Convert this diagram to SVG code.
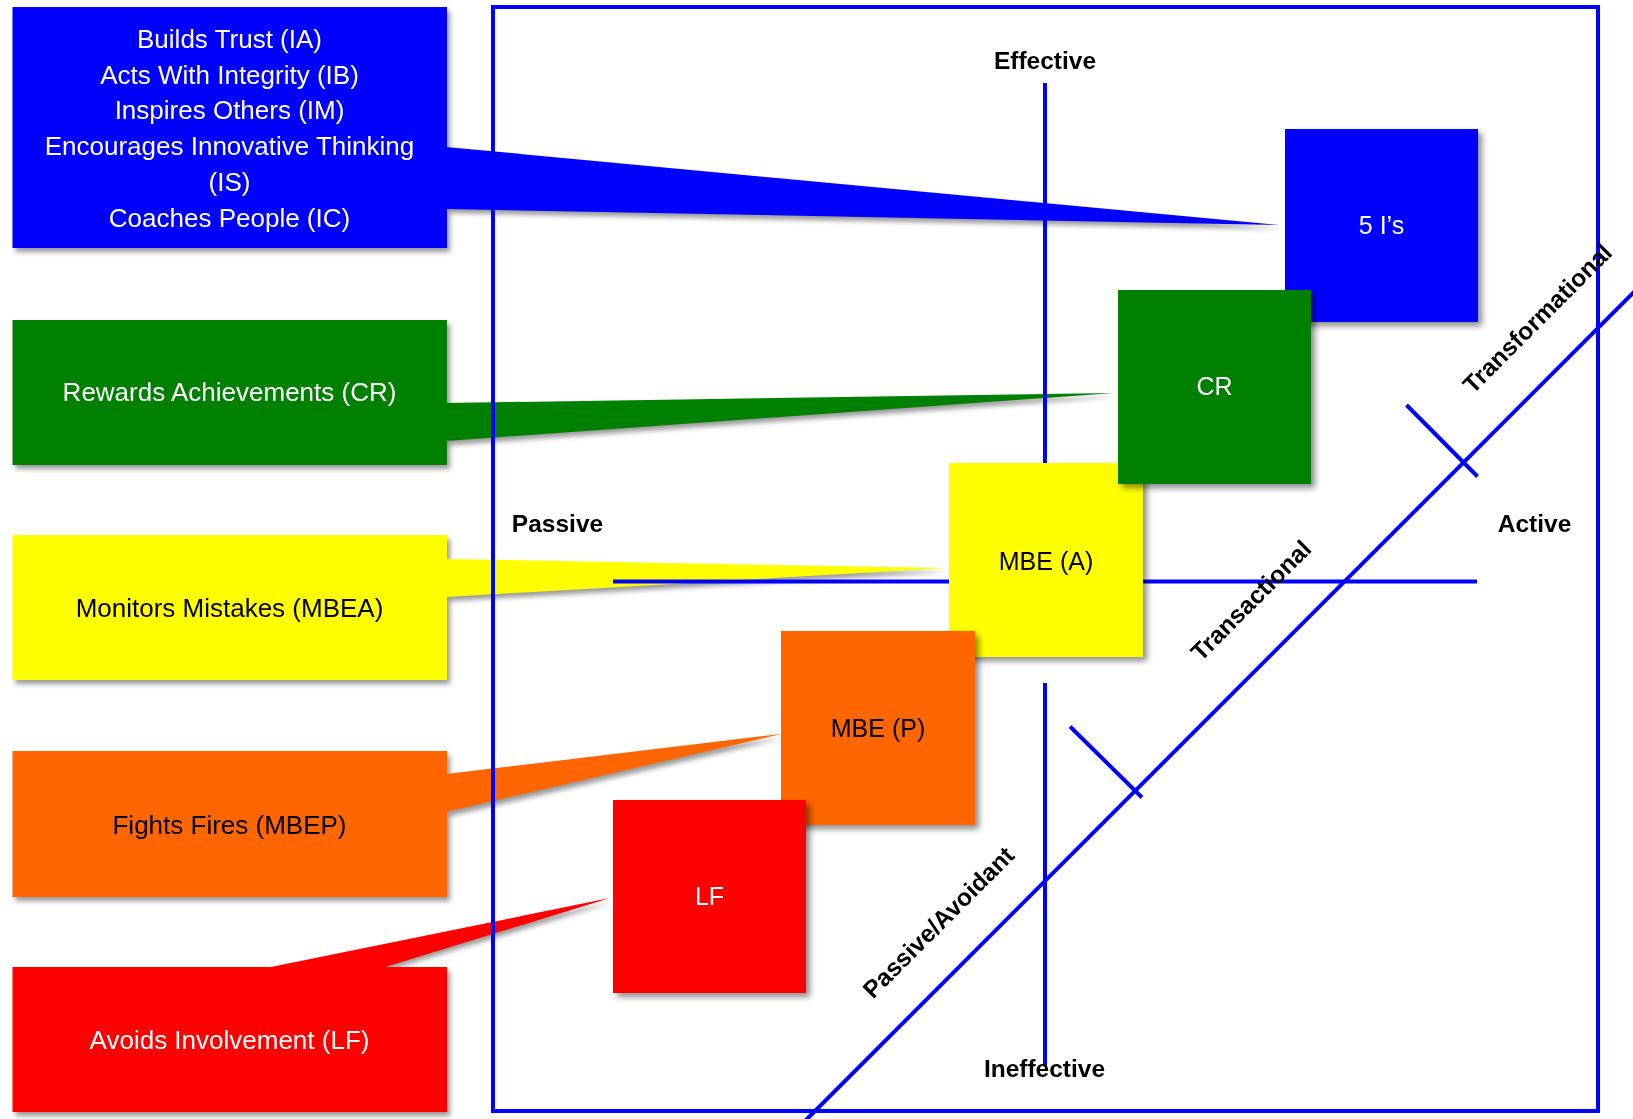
<svg xmlns="http://www.w3.org/2000/svg" width="1633" height="1119" viewBox="0 0 1633 1119">
<style>
  .lbl { font-family: "Liberation Sans", Arial, sans-serif; font-size: 26px; text-anchor: middle; }
  .sq { font-family: "Liberation Sans", Arial, sans-serif; font-size: 25px; text-anchor: middle; }
  .ax { font-family: "Liberation Sans", Arial, sans-serif; font-size: 24.5px; font-weight: bold; text-anchor: middle; fill: #000; }
  .w { fill: #fff; }
  .k { fill: #000; }
  .ln { stroke: #0000ff; stroke-width: 4; fill: none; }
  .shd { fill: #000; opacity: 0.4; }
</style>
<defs>
  <filter id="blur" x="-10%" y="-10%" width="120%" height="120%">
    <feGaussianBlur stdDeviation="2.5"/>
  </filter>
  <filter id="sh" x="-10%" y="-10%" width="130%" height="130%">
    <feDropShadow dx="4" dy="4" stdDeviation="3" flood-color="#000" flood-opacity="0.45"/>
  </filter>
</defs>
<rect width="1633" height="1119" fill="#fff"/>

<!-- shadows of callouts -->
<g id="callout-shadows" filter="url(#blur)" transform="translate(3,4)">
  <path class="shd" d="M12.5,7 H447 V147 L1279,225 L447,209 V248 H12.5 Z"/>
  <path class="shd" d="M12.5,320 H447 V403 L1114,393 L447,441 V465 H12.5 Z"/>
  <path class="shd" d="M12.5,535 H447 V559 L947,568 L447,597 V680 H12.5 Z"/>
  <path class="shd" d="M12.5,751 H447 V774 L781,734 L447,812 V897 H12.5 Z"/>
  <path class="shd" d="M12.5,967 H266 L610,898 L382,967 H447 V1112 H12.5 Z"/>
</g>

<!-- description boxes -->
<g id="node-5is-desc">
  <rect x="12.5" y="7" width="434.5" height="241" fill="#0000ff"/>
  <text class="lbl w" x="229.5" y="48">Builds Trust (IA)</text>
  <text class="lbl w" x="229.5" y="84">Acts With Integrity (IB)</text>
  <text class="lbl w" x="229.5" y="119">Inspires Others (IM)</text>
  <text class="lbl w" x="229.5" y="155">Encourages Innovative Thinking</text>
  <text class="lbl w" x="229.5" y="191">(IS)</text>
  <text class="lbl w" x="229.5" y="227">Coaches People (IC)</text>
</g>
<g id="node-cr-desc">
  <rect x="12.5" y="320" width="434.5" height="145" fill="#008000"/>
  <text class="lbl w" x="229.5" y="401">Rewards Achievements (CR)</text>
</g>
<g id="node-mbea-desc">
  <rect x="12.5" y="535" width="434.5" height="145" fill="#ffff00"/>
  <text class="lbl k" x="229.5" y="617">Monitors Mistakes (MBEA)</text>
</g>
<g id="node-mbep-desc">
  <rect x="12.5" y="751" width="434.5" height="146" fill="#ff6600"/>
  <text class="lbl k" x="229.5" y="834">Fights Fires (MBEP)</text>
</g>
<g id="node-lf-desc">
  <rect x="12.5" y="967" width="434.5" height="145" fill="#ff0000"/>
  <text class="lbl w" x="229.5" y="1049">Avoids Involvement (LF)</text>
</g>

<!-- callout pointers -->
<g id="connectors">
  <polygon points="446,147 1279,225 446,209" fill="#0000ff"/>
  <polygon points="446,403 1114,393 446,441" fill="#008000"/>
  <polygon points="446,559 947,568 446,597" fill="#ffff00"/>
  <polygon points="446,774 781,734 446,812" fill="#ff6600"/>
  <polygon points="266,968 610,898 382,968" fill="#ff0000"/>
</g>

<!-- frame and axes -->
<g id="axes">
  <rect class="ln" x="493" y="7" width="1105" height="1104"/>
  <line class="ln" x1="1045" y1="83" x2="1045" y2="466"/>
  <line class="ln" x1="1045" y1="683" x2="1045" y2="1066"/>
  <line class="ln" x1="613" y1="581.5" x2="950" y2="581.5"/>
  <line class="ln" x1="1142" y1="581.5" x2="1477" y2="581.5"/>
  <line class="ln" x1="1650" y1="276" x2="790" y2="1136"/>
  <line class="ln" x1="1406.5" y1="405" x2="1477.5" y2="476.5"/>
  <line class="ln" x1="1070" y1="726.5" x2="1142" y2="797.5"/>
  <text class="ax" x="1045" y="69">Effective</text>
  <text class="ax" x="1044.5" y="1077">Ineffective</text>
  <text class="ax" x="557.5" y="532">Passive</text>
  <text class="ax" x="1534.5" y="532">Active</text>
  <text class="ax" transform="translate(1537,318) rotate(-45)" x="0" y="9">Transformational</text>
  <text class="ax" transform="translate(1250.5,600) rotate(-45)" x="0" y="9">Transactional</text>
  <text class="ax" transform="translate(938,922) rotate(-45)" x="0" y="9">Passive/Avoidant</text>
</g>

<!-- style squares -->
<g id="node-5is">
  <rect x="1285" y="129" width="193" height="193" fill="#0000ff" filter="url(#sh)"/>
  <text class="sq w" x="1381.5" y="234">5 I’s</text>
</g>
<g id="node-mbea">
  <rect x="949" y="463" width="194" height="194" fill="#ffff00" filter="url(#sh)"/>
  <text class="sq k" x="1046" y="570">MBE (A)</text>
</g>
<g id="node-cr">
  <rect x="1118" y="290" width="193" height="194" fill="#008000" filter="url(#sh)"/>
  <text class="sq w" x="1214.5" y="395">CR</text>
</g>
<g id="node-mbep">
  <rect x="781" y="631" width="194" height="194" fill="#ff6600" filter="url(#sh)"/>
  <text class="sq k" x="878" y="737">MBE (P)</text>
</g>
<g id="node-lf">
  <rect x="613" y="800" width="193" height="193" fill="#ff0000" filter="url(#sh)"/>
  <text class="sq w" x="709.5" y="905">LF</text>
</g>
</svg>
